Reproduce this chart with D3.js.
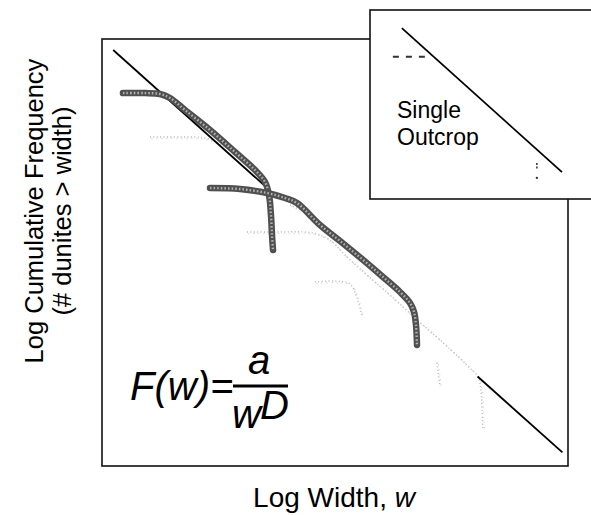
<!DOCTYPE html>
<html><head><meta charset="utf-8">
<script src="https://cdn.jsdelivr.net/npm/d3@7"></script>
<style>html,body{margin:0;padding:0;background:#fff}</style>
</head><body>
<svg id="chart" width="591" height="515"></svg>
<script>
// Power-law fit F(w) = a / w^D drawn in log-log space: logF = logA - D*logw
const fitLogA = 4.49;
const fitD = 0.88;
// log-width ranges over which the fit line shows
const fitVisible = [[0.12, 1.80], [4.03, 4.94]];

// Thick measured profiles: [log width, log cumulative frequency]
const profileUpper = [[0.225,3.930],[0.461,3.930],[0.622,3.920],[0.730,3.878],[0.891,3.751],[1.159,3.541],[1.427,3.309],[1.642,3.119],[1.749,2.993],[1.792,2.856],[1.813,2.645],[1.824,2.434],[1.835,2.276]];
const profileLower = [[1.159,2.929],[1.481,2.919],[1.770,2.877],[1.964,2.824],[2.092,2.771],[2.339,2.540],[2.554,2.371],[2.790,2.181],[3.015,1.992],[3.197,1.834],[3.305,1.718],[3.348,1.623],[3.369,1.486],[3.380,1.275]];

// Faint measured profiles
const faintA = [[0.515,3.467],[0.837,3.467],[1.105,3.456],[1.288,3.383],[1.459,3.267],[1.609,3.140],[1.727,3.003]];
const faintB = [[1.556,2.466],[1.856,2.466],[2.264,2.455],[2.446,2.381],[2.607,2.223],[2.843,2.013],[3.090,1.802],[3.358,1.560],[3.627,1.328],[3.916,1.064],[4.034,0.938],[4.067,0.780],[4.077,0.590],[4.088,0.379]];
const faintC = [[2.017,2.750],[2.232,2.645],[2.446,2.466],[2.661,2.276],[2.897,2.086],[3.144,1.876],[3.305,1.749]];
const faintD = [[2.285,1.939],[2.500,1.949],[2.661,1.918],[2.725,1.802],[2.768,1.665],[2.790,1.581]];
const faintE = [[3.594,1.086],[3.627,0.833]];
const faintProfiles = [faintA, faintB, faintC, faintD, faintE];

// Inset: single outcrop
const insetFit = [[0.85,4.52],[5.12,0.71]];
const insetPlateau = [[0.61,3.76],[1.65,3.76]];
const insetTail = [[4.45,0.95],[4.45,0.77]];
const insetDot = [[4.45,0.56]];

const svg = d3.select("#chart");
const x = d3.scaleLinear().domain([0,5]).range([102,568]);
const y = d3.scaleLinear().domain([0,4.5]).range([466,39]);
const line = d3.line().x(d => x(d[0])).y(d => y(d[1])).curve(d3.curveCatmullRom.alpha(0.5));

// plot frame
svg.append("rect")
  .attr("x", x(0)).attr("y", y(4.5))
  .attr("width", x(5) - x(0)).attr("height", y(0) - y(4.5))
  .attr("fill", "#fff").attr("stroke", "#111").attr("stroke-width", 1.6);

// faint profiles: scattered light-grey dots
const faint = svg.append("g").selectAll("g").data(faintProfiles).join("g");
faint.append("path").attr("d", line).attr("fill", "none")
  .attr("stroke", "#b4b4b4").attr("stroke-width", 1.4)
  .attr("stroke-dasharray", "1 2.4");
faint.append("path").attr("d", line).attr("fill", "none")
  .attr("transform", "translate(1.5,1.5)")
  .attr("stroke", "#cfcfcf").attr("stroke-width", 1.2)
  .attr("stroke-dasharray", "1 4");

// fit line
const fitPts = fitVisible.map(r => r.map(w => [w, fitLogA - fitD * w]));
svg.append("g").selectAll("path").data(fitPts).join("path")
  .attr("d", d3.line().x(d => x(d[0])).y(d => y(d[1])))
  .attr("stroke", "#000").attr("stroke-width", 1.8).attr("fill", "none");

// thick profiles: grey beaded stroke
const thick = svg.append("g").selectAll("g").data([profileUpper, profileLower]).join("g");
thick.append("path").attr("d", line).attr("fill", "none")
  .attr("stroke", "#505050").attr("stroke-width", 6.5).attr("stroke-linecap", "round").attr("stroke-linejoin", "round");
thick.append("path").attr("d", line).attr("fill", "none")
  .attr("stroke", "#b0b0b0").attr("stroke-width", 2.4).attr("stroke-dasharray", "1.6 2");

// inset panel
const ix = d3.scaleLinear().domain([0,6]).range([370,595]);
const iy = d3.scaleLinear().domain([0,5]).range([199,10]);
svg.append("rect")
  .attr("x", ix(0)).attr("y", iy(5))
  .attr("width", ix(6) - ix(0)).attr("height", iy(0) - iy(5))
  .attr("fill", "#fff").attr("stroke", "#111").attr("stroke-width", 1.6);
const iline = d3.line().x(d => ix(d[0])).y(d => iy(d[1]));
svg.append("path").attr("d", iline(insetPlateau)).attr("fill", "none")
  .attr("stroke", "#333").attr("stroke-width", 2).attr("stroke-dasharray", "6 7");
svg.append("path").attr("d", iline(insetFit)).attr("fill", "none")
  .attr("stroke", "#000").attr("stroke-width", 1.8);
svg.append("path").attr("d", iline(insetTail)).attr("fill", "none")
  .attr("stroke", "#333").attr("stroke-width", 1.5).attr("stroke-dasharray", "2 1.5");
svg.selectAll(".idot").data(insetDot).join("circle")
  .attr("cx", d => ix(d[0])).attr("cy", d => iy(d[1])).attr("r", 1.2).attr("fill", "#333");

const font = "'Liberation Sans', Arial, sans-serif";
svg.append("text").attr("x", 397).attr("y", 118)
  .attr("font-family", font).attr("font-size", 23).text("Single");
svg.append("text").attr("x", 397).attr("y", 145)
  .attr("font-family", font).attr("font-size", 23).text("Outcrop");

// axis titles
svg.append("text").attr("x", 334).attr("y", 507).attr("text-anchor", "middle")
  .attr("font-family", font).attr("font-size", 28)
  .html('Log Width, <tspan font-style="italic">w</tspan>');
const yl = svg.append("g").attr("transform", "translate(0,211) rotate(-90)");
yl.append("text").attr("x", 0).attr("y", 43).attr("text-anchor", "middle")
  .attr("font-family", font).attr("font-size", 25.5).text("Log Cumulative Frequency");
yl.append("text").attr("x", 0).attr("y", 71).attr("text-anchor", "middle")
  .attr("font-family", font).attr("font-size", 25.5).text("(# dunites > width)");

// formula F(w) = a / w^D
const fg = svg.append("g").attr("font-family", font).attr("font-style", "italic").attr("font-size", 40);
fg.append("text").attr("x", 130).attr("y", 400).text("F(w)=");
fg.append("line").attr("x1", 233).attr("x2", 288).attr("y1", 386).attr("y2", 386)
  .attr("stroke", "#000").attr("stroke-width", 3);
fg.append("text").attr("x", 259).attr("y", 374).attr("text-anchor", "middle").text("a");
fg.append("text").attr("x", 232).attr("y", 428).text("w");
fg.append("text").attr("x", 260).attr("y", 419).text("D");
</script>
</body></html>
